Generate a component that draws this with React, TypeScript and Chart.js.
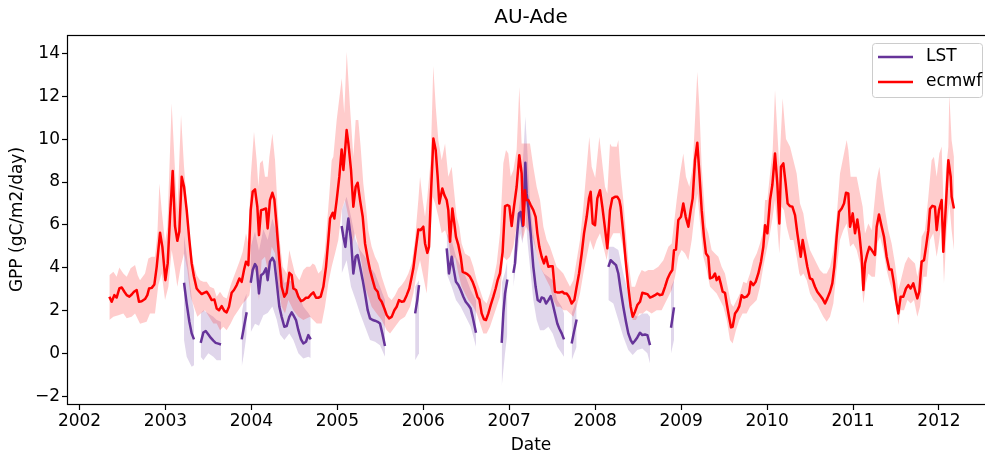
import React, { useEffect, useRef } from "react";
import { Chart, registerables } from "chart.js";

Chart.register(...registerables);

const chartTitle = "AU-Ade";
const xAxisTitle = "Date";
const yAxisTitle = "GPP (gC/m2/day)";
const seriesNames = ["LST", "ecmwf"];
const xTickYears = [2002, 2003, 2004, 2005, 2006, 2007, 2008, 2009, 2010, 2011, 2012];
const yTickValues = [-2, 0, 2, 4, 6, 8, 10, 12, 14];

const ecmwfDates = [
  2002.347, 2002.374, 2002.405, 2002.432, 2002.463, 2002.491, 2002.522, 2002.549, 2002.580, 2002.607,
  2002.634, 2002.665, 2002.692, 2002.723, 2002.762, 2002.789, 2002.809, 2002.840, 2002.871, 2002.898,
  2002.937, 2002.964, 2002.999, 2003.026, 2003.053, 2003.084, 2003.111, 2003.138, 2003.161, 2003.189,
  2003.216, 2003.247, 2003.278, 2003.305, 2003.332, 2003.363, 2003.394, 2003.421, 2003.449, 2003.480,
  2003.507, 2003.538, 2003.569, 2003.596, 2003.623, 2003.654, 2003.685, 2003.712, 2003.739, 2003.770,
  2003.797, 2003.829, 2003.860, 2003.887, 2003.914, 2003.937, 2003.964, 2003.992, 2004.015, 2004.042,
  2004.069, 2004.088, 2004.112, 2004.139, 2004.170, 2004.189, 2004.216, 2004.244, 2004.267, 2004.294,
  2004.325, 2004.352, 2004.383, 2004.410, 2004.441, 2004.469, 2004.488, 2004.519, 2004.546, 2004.577,
  2004.604, 2004.635, 2004.662, 2004.693, 2004.721, 2004.752, 2004.779, 2004.806, 2004.837, 2004.868,
  2004.895, 2004.915, 2004.946, 2004.965, 2004.992, 2005.023, 2005.050, 2005.070, 2005.093, 2005.108,
  2005.128, 2005.159, 2005.186, 2005.213, 2005.236, 2005.264, 2005.295, 2005.322, 2005.353, 2005.380,
  2005.411, 2005.438, 2005.469, 2005.488, 2005.516, 2005.547, 2005.574, 2005.601, 2005.632, 2005.663,
  2005.690, 2005.717, 2005.748, 2005.775, 2005.807, 2005.837, 2005.865, 2005.884, 2005.911, 2005.942,
  2005.969, 2006.000, 2006.020, 2006.047, 2006.066, 2006.086, 2006.117, 2006.144, 2006.167, 2006.186,
  2006.221, 2006.245, 2006.272, 2006.291, 2006.311, 2006.338, 2006.361, 2006.380, 2006.408, 2006.435,
  2006.458, 2006.485, 2006.512, 2006.543, 2006.574, 2006.602, 2006.629, 2006.652, 2006.679, 2006.706,
  2006.729, 2006.757, 2006.784, 2006.815, 2006.842, 2006.865, 2006.892, 2006.923, 2006.951, 2006.978,
  2007.001, 2007.028, 2007.055, 2007.086, 2007.117, 2007.144, 2007.164, 2007.183, 2007.195, 2007.222,
  2007.249, 2007.280, 2007.307, 2007.327, 2007.350, 2007.377, 2007.404, 2007.428, 2007.455, 2007.482,
  2007.505, 2007.532, 2007.559, 2007.590, 2007.618, 2007.641, 2007.668, 2007.695, 2007.726, 2007.757,
  2007.784, 2007.812, 2007.843, 2007.870, 2007.901, 2007.928, 2007.947, 2007.971, 2007.998, 2008.025,
  2008.056, 2008.083, 2008.114, 2008.141, 2008.172, 2008.199, 2008.230, 2008.258, 2008.281, 2008.296,
  2008.327, 2008.354, 2008.385, 2008.413, 2008.436, 2008.463, 2008.490, 2008.521, 2008.548, 2008.579,
  2008.607, 2008.638, 2008.665, 2008.696, 2008.723, 2008.754, 2008.781, 2008.812, 2008.843, 2008.870,
  2008.897, 2008.917, 2008.940, 2008.967, 2008.998, 2009.025, 2009.053, 2009.084, 2009.111, 2009.134,
  2009.161, 2009.188, 2009.212, 2009.239, 2009.266, 2009.289, 2009.316, 2009.336, 2009.367, 2009.394,
  2009.413, 2009.440, 2009.460, 2009.483, 2009.510, 2009.530, 2009.557, 2009.580, 2009.599, 2009.627,
  2009.654, 2009.677, 2009.704, 2009.731, 2009.762, 2009.789, 2009.809, 2009.840, 2009.867, 2009.898,
  2009.929, 2009.956, 2009.976, 2010.003, 2010.034, 2010.061, 2010.092, 2010.119, 2010.142, 2010.162,
  2010.189, 2010.216, 2010.239, 2010.266, 2010.294, 2010.325, 2010.352, 2010.375, 2010.391, 2010.414,
  2010.441, 2010.468, 2010.499, 2010.526, 2010.557, 2010.584, 2010.615, 2010.643, 2010.674, 2010.701,
  2010.732, 2010.759, 2010.782, 2010.809, 2010.837, 2010.868, 2010.895, 2010.918, 2010.945, 2010.965,
  2010.996, 2011.023, 2011.050, 2011.073, 2011.100, 2011.120, 2011.139, 2011.166, 2011.190, 2011.217,
  2011.255, 2011.275, 2011.302, 2011.333, 2011.360, 2011.391, 2011.422, 2011.449, 2011.476, 2011.500,
  2011.527, 2011.554, 2011.585, 2011.616, 2011.643, 2011.670, 2011.701, 2011.721, 2011.748, 2011.771,
  2011.798, 2011.826, 2011.849, 2011.876, 2011.895, 2011.922, 2011.953, 2011.973, 2012.000, 2012.031,
  2012.050, 2012.081, 2012.109, 2012.136, 2012.147, 2012.174,
];
const ecmwfValues = [
  2.66, 2.42, 2.73, 2.62, 3.04, 3.09, 2.89, 2.73, 2.66, 2.76,
  2.89, 2.97, 2.42, 2.45, 2.55, 2.73, 3.04, 3.07, 3.23, 4.05,
  5.64, 4.98, 3.43, 4.21, 6.38, 8.52, 5.95, 5.26, 5.68, 8.25,
  7.78, 6.69, 5.30, 4.21, 3.59, 3.04, 2.89, 2.78, 2.84, 2.89,
  2.73, 2.50, 2.53, 2.11, 2.03, 2.22, 2.00, 1.93, 2.19, 2.84,
  2.97, 3.20, 3.51, 3.35, 3.90, 4.29, 4.13, 6.69, 7.55, 7.66,
  6.85, 5.53, 6.69, 6.72, 6.77, 5.84, 7.16, 7.50, 7.19, 5.92,
  4.36, 3.12, 2.66, 2.84, 3.77, 3.66, 3.04, 2.97, 2.66, 2.45,
  2.50, 2.61, 2.61, 2.76, 2.86, 2.61, 2.61, 2.66, 3.12, 4.05,
  5.30, 6.30, 6.57, 6.30, 7.16, 8.25, 9.52, 8.56, 9.64, 10.42,
  9.80, 8.56, 6.85, 7.78, 7.97, 7.16, 6.38, 5.14, 4.44, 3.90,
  3.43, 3.04, 2.89, 2.58, 2.42, 2.11, 1.80, 1.65, 1.72, 2.03,
  2.19, 2.50, 2.42, 2.45, 2.73, 3.04, 3.59, 3.98, 4.83, 5.79,
  5.76, 5.92, 5.14, 4.70, 4.98, 7.16, 10.03, 9.49, 8.25, 7.00,
  7.70, 7.39, 7.16, 6.69, 5.22, 6.77, 6.07, 5.45, 5.06, 4.52,
  3.82, 3.77, 3.71, 3.59, 3.35, 3.04, 2.66, 2.53, 1.88, 1.60,
  1.57, 1.88, 2.27, 2.66, 3.04, 3.43, 3.74, 4.75, 6.88, 6.93,
  6.88, 5.95, 6.85, 7.78, 9.25, 8.40, 5.99, 7.62, 7.16, 7.16,
  6.93, 6.69, 6.38, 5.61, 4.98, 4.52, 4.21, 4.52, 4.05, 4.08,
  4.08, 2.89, 2.86, 2.86, 2.89, 2.81, 2.81, 2.66, 2.34, 2.50,
  3.12, 3.74, 4.67, 5.61, 6.38, 7.24, 7.55, 6.07, 5.99, 7.24,
  7.62, 6.85, 5.84, 4.91, 6.69, 7.24, 7.31, 7.31, 7.16, 6.85,
  5.61, 4.36, 3.12, 2.19, 1.72, 1.96, 2.27, 2.42, 2.84, 2.81,
  2.78, 2.62, 2.66, 2.73, 2.81, 2.73, 2.76, 3.12, 3.51, 3.74,
  3.90, 4.83, 4.86, 6.23, 6.38, 7.00, 6.38, 5.92, 6.69, 7.24,
  9.02, 9.83, 8.40, 6.69, 5.45, 4.67, 4.52, 3.51, 3.56, 3.74,
  3.43, 3.59, 3.28, 2.89, 2.84, 2.34, 1.72, 1.23, 1.26, 1.88,
  2.03, 2.22, 2.73, 2.62, 2.66, 2.81, 3.35, 3.20, 3.35, 3.74,
  4.29, 4.98, 5.99, 5.61, 7.16, 7.86, 9.33, 7.93, 6.07, 8.71,
  8.87, 7.93, 7.00, 6.88, 6.85, 6.46, 5.61, 4.98, 4.52, 5.30,
  4.67, 4.05, 3.51, 3.46, 3.12, 2.89, 2.73, 2.58, 2.34, 2.58,
  2.89, 3.28, 4.05, 5.45, 6.61, 6.77, 7.00, 7.50, 7.47, 5.92,
  6.54, 5.61, 6.26, 5.61, 4.52, 2.97, 4.21, 4.67, 4.98, 4.83,
  4.60, 5.92, 6.49, 5.92, 5.45, 4.52, 3.93, 3.93, 3.28, 2.50,
  1.88, 2.66, 2.66, 3.04, 3.20, 3.04, 3.28, 2.97, 2.58, 2.89,
  4.29, 4.36, 4.98, 5.76, 6.74, 6.89, 6.85, 5.76, 6.69, 7.16,
  4.75, 7.00, 9.02, 8.25, 7.31, 6.77,
];

const ecmwfUpperDates = [
  2002.347, 2002.394, 2002.432, 2002.463, 2002.510, 2002.549, 2002.595, 2002.646, 2002.677, 2002.704,
  2002.762, 2002.801, 2002.840, 2002.878, 2002.906, 2002.929, 2002.956, 2002.995, 2003.022, 2003.072,
  2003.111, 2003.138, 2003.181, 2003.216, 2003.247, 2003.278, 2003.317, 2003.363, 2003.402, 2003.441,
  2003.480, 2003.518, 2003.565, 2003.596, 2003.635, 2003.673, 2003.712, 2003.759, 2003.809, 2003.860,
  2003.898, 2003.937, 2003.964, 2003.992, 2004.030, 2004.061, 2004.081, 2004.100, 2004.131, 2004.158,
  2004.189, 2004.209, 2004.244, 2004.275, 2004.306, 2004.333, 2004.364, 2004.410, 2004.441, 2004.469,
  2004.507, 2004.558, 2004.604, 2004.643, 2004.682, 2004.713, 2004.740, 2004.779, 2004.818, 2004.856,
  2004.883, 2004.907, 2004.934, 2004.953, 2004.992, 2005.051, 2005.080, 2005.109, 2005.147, 2005.186,
  2005.213, 2005.244, 2005.271, 2005.302, 2005.333, 2005.360, 2005.399, 2005.438, 2005.477, 2005.516,
  2005.554, 2005.593, 2005.632, 2005.671, 2005.709, 2005.748, 2005.787, 2005.826, 2005.865, 2005.903,
  2005.942, 2005.962, 2005.993, 2006.020, 2006.047, 2006.086, 2006.116, 2006.145, 2006.175, 2006.214,
  2006.253, 2006.291, 2006.330, 2006.349, 2006.388, 2006.419, 2006.446, 2006.485, 2006.543, 2006.582,
  2006.621, 2006.660, 2006.698, 2006.737, 2006.776, 2006.815, 2006.854, 2006.892, 2006.931, 2006.962,
  2006.989, 2007.017, 2007.048, 2007.086, 2007.117, 2007.144, 2007.202, 2007.241, 2007.280, 2007.319,
  2007.358, 2007.397, 2007.435, 2007.474, 2007.513, 2007.552, 2007.591, 2007.629, 2007.668, 2007.707,
  2007.746, 2007.784, 2007.823, 2007.862, 2007.901, 2007.931, 2007.959, 2008.000, 2008.048, 2008.087,
  2008.114, 2008.141, 2008.172, 2008.192, 2008.250, 2008.269, 2008.296, 2008.327, 2008.358, 2008.385,
  2008.424, 2008.463, 2008.502, 2008.541, 2008.579, 2008.618, 2008.676, 2008.734, 2008.793, 2008.851,
  2008.890, 2008.917, 2008.948, 2008.987, 2009.025, 2009.056, 2009.095, 2009.134, 2009.161, 2009.188,
  2009.212, 2009.239, 2009.266, 2009.289, 2009.316, 2009.355, 2009.394, 2009.433, 2009.471, 2009.510,
  2009.549, 2009.580, 2009.607, 2009.646, 2009.684, 2009.723, 2009.762, 2009.801, 2009.840, 2009.879,
  2009.917, 2009.956, 2009.976, 2010.003, 2010.034, 2010.065, 2010.092, 2010.142, 2010.181, 2010.220,
  2010.267, 2010.306, 2010.344, 2010.383, 2010.422, 2010.461, 2010.499, 2010.538, 2010.577, 2010.615,
  2010.654, 2010.693, 2010.732, 2010.771, 2010.809, 2010.848, 2010.887, 2010.926, 2010.945, 2010.972,
  2011.003, 2011.042, 2011.081, 2011.112, 2011.139, 2011.178, 2011.217, 2011.275, 2011.306, 2011.333,
  2011.372, 2011.411, 2011.449, 2011.488, 2011.527, 2011.566, 2011.604, 2011.643, 2011.682, 2011.721,
  2011.748, 2011.779, 2011.798, 2011.837, 2011.876, 2011.914, 2011.941, 2011.973, 2012.004, 2012.031,
  2012.058, 2012.081, 2012.109, 2012.120, 2012.147, 2012.174,
];
const ecmwfUpperValues = [
  3.66, 3.82, 3.59, 4.02, 3.74, 3.59, 3.98, 4.13, 3.66, 3.43,
  3.74, 4.44, 4.52, 4.52, 5.61, 7.93, 6.69, 5.22, 5.92, 11.67,
  8.56, 6.69, 11.12, 8.71, 7.16, 5.61, 4.36, 3.66, 3.43, 3.35,
  3.35, 3.12, 3.04, 2.66, 2.89, 2.66, 2.58, 3.20, 3.74, 4.29,
  4.75, 5.61, 5.14, 8.25, 10.34, 9.02, 7.78, 8.87, 9.02, 8.25,
  8.25, 9.18, 10.26, 9.02, 6.69, 5.14, 4.05, 3.74, 4.83, 4.36,
  3.74, 3.43, 3.90, 4.05, 4.05, 4.21, 4.13, 3.74, 3.90, 4.83,
  6.23, 7.47, 9.02, 9.18, 10.89, 12.83, 11.20, 14.07, 11.51, 9.18,
  10.89, 10.89, 9.64, 7.93, 6.85, 5.76, 4.98, 4.52, 4.21, 3.59,
  3.12, 2.66, 2.50, 2.73, 3.04, 3.20, 3.43, 3.74, 4.21, 5.30,
  7.16, 8.25, 7.16, 6.38, 7.31, 9.02, 13.41, 11.50, 9.95, 9.02,
  9.80, 8.25, 8.71, 7.93, 6.38, 5.92, 5.14, 4.67, 4.52, 4.05,
  3.43, 2.97, 2.50, 2.34, 2.81, 3.43, 4.21, 5.61, 8.87, 9.49,
  9.33, 8.25, 8.56, 9.49, 12.44, 9.80, 9.80, 9.80, 8.71, 7.78,
  7.16, 5.92, 5.30, 4.98, 4.52, 4.05, 3.90, 3.74, 3.43, 3.12,
  3.43, 4.36, 5.30, 6.85, 8.71, 10.11, 8.71, 8.20, 10.11, 8.71,
  7.78, 7.47, 9.80, 9.65, 9.64, 9.96, 8.40, 7.16, 5.60, 4.36,
  3.12, 3.12, 3.59, 3.90, 3.82, 3.90, 3.90, 4.05, 4.36, 4.98,
  5.14, 6.07, 7.16, 8.40, 9.33, 8.25, 7.78, 8.71, 10.89, 13.14,
  11.50, 8.71, 7.16, 5.92, 5.61, 4.83, 4.67, 4.52, 4.05, 3.74,
  2.97, 2.34, 2.19, 2.50, 2.81, 3.35, 3.28, 3.74, 4.36, 4.67,
  5.14, 5.76, 7.16, 7.16, 8.40, 9.49, 12.29, 8.71, 11.90, 10.00,
  9.64, 9.02, 8.40, 7.00, 6.54, 5.45, 4.83, 4.52, 4.21, 3.90,
  3.74, 3.74, 4.05, 4.83, 6.38, 8.40, 9.18, 9.96, 9.49, 8.25,
  8.25, 8.25, 7.47, 6.85, 5.60, 6.07, 5.76, 8.09, 8.71, 7.78,
  6.69, 5.76, 5.14, 4.21, 2.97, 3.59, 4.21, 4.52, 4.36, 4.21,
  3.59, 4.21, 5.45, 5.76, 7.31, 9.02, 9.18, 8.25, 9.33, 9.65,
  6.38, 8.56, 9.64, 12.13, 9.95, 9.18,
];

const ecmwfLowerDates = [
  2002.347, 2002.394, 2002.452, 2002.510, 2002.549, 2002.607, 2002.646, 2002.704, 2002.781, 2002.820,
  2002.878, 2002.917, 2002.956, 2002.995, 2003.034, 2003.072, 2003.111, 2003.138, 2003.177, 2003.216,
  2003.255, 2003.293, 2003.332, 2003.371, 2003.410, 2003.460, 2003.507, 2003.557, 2003.596, 2003.635,
  2003.673, 2003.712, 2003.759, 2003.797, 2003.848, 2003.898, 2003.937, 2003.976, 2004.022, 2004.061,
  2004.088, 2004.119, 2004.158, 2004.197, 2004.236, 2004.275, 2004.313, 2004.352, 2004.391, 2004.430,
  2004.488, 2004.546, 2004.604, 2004.682, 2004.759, 2004.818, 2004.856, 2004.895, 2004.934, 2004.973,
  2005.011, 2005.050, 2005.089, 2005.128, 2005.167, 2005.205, 2005.244, 2005.283, 2005.322, 2005.360,
  2005.399, 2005.457, 2005.516, 2005.574, 2005.613, 2005.671, 2005.729, 2005.787, 2005.846, 2005.884,
  2005.923, 2005.962, 2006.000, 2006.039, 2006.078, 2006.110, 2006.137, 2006.175, 2006.214, 2006.253,
  2006.291, 2006.330, 2006.369, 2006.408, 2006.446, 2006.485, 2006.524, 2006.582, 2006.621, 2006.660,
  2006.698, 2006.737, 2006.776, 2006.815, 2006.854, 2006.892, 2006.931, 2006.970, 2007.009, 2007.048,
  2007.086, 2007.117, 2007.156, 2007.195, 2007.241, 2007.280, 2007.319, 2007.358, 2007.397, 2007.435,
  2007.474, 2007.513, 2007.552, 2007.591, 2007.629, 2007.668, 2007.707, 2007.746, 2007.784, 2007.823,
  2007.862, 2007.901, 2007.940, 2007.979, 2008.017, 2008.056, 2008.095, 2008.133, 2008.172, 2008.211,
  2008.250, 2008.288, 2008.327, 2008.366, 2008.405, 2008.436, 2008.474, 2008.513, 2008.552, 2008.598,
  2008.657, 2008.715, 2008.773, 2008.832, 2008.890, 2008.929, 2008.967, 2009.006, 2009.045, 2009.084,
  2009.123, 2009.161, 2009.188, 2009.220, 2009.258, 2009.297, 2009.336, 2009.374, 2009.413, 2009.452,
  2009.491, 2009.530, 2009.568, 2009.599, 2009.638, 2009.677, 2009.715, 2009.762, 2009.801, 2009.840,
  2009.879, 2009.917, 2009.956, 2009.995, 2010.034, 2010.065, 2010.092, 2010.119, 2010.142, 2010.170,
  2010.197, 2010.228, 2010.267, 2010.306, 2010.344, 2010.375, 2010.391, 2010.422, 2010.461, 2010.499,
  2010.538, 2010.577, 2010.615, 2010.654, 2010.693, 2010.732, 2010.771, 2010.809, 2010.848, 2010.887,
  2010.926, 2010.965, 2011.003, 2011.042, 2011.081, 2011.120, 2011.151, 2011.178, 2011.217, 2011.255,
  2011.283, 2011.314, 2011.352, 2011.391, 2011.430, 2011.469, 2011.508, 2011.527, 2011.554, 2011.593,
  2011.632, 2011.671, 2011.709, 2011.748, 2011.779, 2011.818, 2011.857, 2011.895, 2011.934, 2011.973,
  2012.004, 2012.031, 2012.058, 2012.089, 2012.120, 2012.147, 2012.174,
];
const ecmwfLowerValues = [
  1.57, 1.72, 1.80, 1.88, 1.65, 1.72, 1.88, 1.40, 1.49, 1.88,
  1.88, 3.20, 3.74, 2.50, 3.12, 4.83, 3.90, 3.12, 4.05, 4.67,
  3.90, 2.66, 2.19, 1.72, 1.88, 2.03, 1.72, 1.41, 1.41, 1.10,
  1.26, 1.10, 1.41, 1.72, 2.03, 2.34, 2.50, 2.73, 4.05, 3.74,
  2.50, 4.36, 4.52, 3.74, 4.98, 4.67, 3.12, 2.19, 1.88, 2.50,
  2.03, 1.72, 1.57, 1.72, 1.41, 1.41, 2.19, 3.28, 4.05, 4.67,
  5.30, 6.69, 7.16, 6.38, 4.98, 5.61, 4.98, 4.21, 3.12, 2.66,
  2.19, 1.88, 1.57, 1.10, 0.95, 1.26, 1.57, 1.72, 2.19, 2.81,
  3.74, 4.36, 3.59, 2.81, 4.98, 7.30, 7.00, 6.38, 5.61, 5.76,
  5.30, 4.21, 4.52, 3.74, 3.12, 2.81, 2.50, 2.19, 1.88, 1.41,
  0.95, 0.95, 1.26, 1.72, 2.19, 2.66, 4.52, 4.36, 4.52, 4.98,
  5.92, 6.69, 5.30, 5.92, 5.61, 5.30, 4.67, 4.05, 3.74, 3.43,
  3.12, 2.50, 2.19, 2.19, 2.03, 2.03, 1.88, 1.72, 2.19, 2.81,
  3.74, 4.52, 5.30, 4.83, 5.30, 5.61, 4.98, 4.36, 5.30, 5.61,
  5.61, 5.61, 4.83, 3.74, 2.50, 1.57, 1.57, 1.88, 1.88, 2.03,
  1.88, 2.03, 2.03, 2.50, 2.97, 3.59, 4.52, 4.83, 4.67, 4.36,
  5.30, 6.69, 7.47, 6.07, 4.52, 3.90, 3.12, 2.97, 2.81, 2.50,
  2.19, 1.57, 0.64, 0.48, 1.10, 1.57, 1.88, 1.88, 2.19, 2.34,
  2.50, 3.12, 4.05, 4.83, 5.61, 6.38, 7.16, 5.92, 4.67, 6.85,
  6.69, 5.92, 5.30, 5.30, 4.52, 3.74, 3.60, 3.74, 3.43, 2.81,
  2.50, 2.34, 2.03, 1.72, 1.49, 1.72, 2.34, 3.90, 5.30, 5.76,
  6.07, 4.98, 5.14, 4.83, 4.21, 2.34, 3.28, 3.74, 3.59, 3.59,
  5.14, 5.45, 4.83, 3.90, 3.28, 2.81, 2.03, 1.34, 2.03, 2.03,
  2.50, 2.34, 2.50, 1.72, 2.19, 3.59, 3.59, 5.30, 5.61, 4.52,
  5.30, 6.23, 3.28, 5.76, 7.00, 5.76, 4.83,
];

// LST series: null marks a gap between observation runs
const lstDates = [
  2003.216, 2003.247, 2003.278, 2003.305, 2003.332, 2003.370,
  2003.410, 2003.441, 2003.468, 2003.499, 2003.526, 2003.557, 2003.584, 2003.615, 2003.646, 2003.770,
  2003.887, 2003.914, 2003.945, 2003.970,
  2003.992, 2004.015, 2004.042, 2004.061, 2004.088, 2004.112, 2004.139, 2004.170, 2004.189, 2004.216,
  2004.244, 2004.267, 2004.294, 2004.325, 2004.352, 2004.383, 2004.410, 2004.441, 2004.469, 2004.488,
  2004.519, 2004.546, 2004.577, 2004.604, 2004.635, 2004.662, 2004.690, 2004.870,
  2005.050, 2005.070, 2005.093, 2005.108, 2005.128, 2005.159, 2005.186, 2005.213, 2005.236, 2005.264,
  2005.295, 2005.322, 2005.353, 2005.380, 2005.411, 2005.438, 2005.469, 2005.496, 2005.523, 2005.554, 2005.750,
  2005.905, 2005.930, 2005.950, 2006.100,
  2006.272, 2006.299, 2006.330, 2006.349, 2006.380, 2006.408, 2006.435, 2006.466, 2006.493, 2006.524,
  2006.551, 2006.574, 2006.594, 2006.613, 2006.760,
  2006.912, 2006.931, 2006.951, 2006.978, 2007.010,
  2007.048, 2007.067, 2007.086, 2007.113, 2007.133, 2007.156, 2007.172, 2007.187, 2007.202, 2007.222,
  2007.249, 2007.280, 2007.307, 2007.331, 2007.358, 2007.377, 2007.404, 2007.428, 2007.455, 2007.482,
  2007.505, 2007.532, 2007.559, 2007.582, 2007.610, 2007.637, 2007.680,
  2007.726, 2007.753, 2007.784, 2007.970,
  2008.153, 2008.180, 2008.211, 2008.242, 2008.269, 2008.296, 2008.327, 2008.358, 2008.385, 2008.413,
  2008.436, 2008.463, 2008.490, 2008.521, 2008.548, 2008.579, 2008.607, 2008.638, 2008.760,
  2008.882, 2008.901, 2008.917,
];
const lstValues = [
  3.31, 2.34, 1.49, 0.95, 0.67, null,
  0.51, 0.99, 1.06, 0.90, 0.75, 0.61, 0.51, 0.47, 0.43, null,
  0.67, 1.26, 1.93, null,
  3.31, 3.90, 4.18, 4.05, 2.81, 3.66, 3.74, 3.98, 3.43, 4.29,
  4.47, 4.29, 3.35, 2.19, 1.72, 1.26, 1.29, 1.72, 1.93, 1.80,
  1.57, 1.10, 0.67, 0.48, 0.56, 0.87, 0.67, null,
  5.95, 5.45, 4.98, 5.61, 6.30, 5.30, 3.74, 4.52, 4.60, 4.05,
  3.43, 2.81, 2.03, 1.65, 1.57, 1.54, 1.49, 1.41, 0.95, 0.36, null,
  1.88, 2.50, 3.20, null,
  4.91, 3.74, 4.52, 4.05, 3.35, 3.20, 2.97, 2.66, 2.42, 2.27,
  2.11, 1.72, 1.34, 0.98, null,
  0.51, 1.88, 2.81, 3.46, null,
  3.77, 4.21, 5.30, 6.54, 6.61, 5.95, 7.00, 8.90, 7.47, 6.85,
  5.61, 4.05, 3.12, 2.50, 2.42, 2.62, 2.58, 2.34, 2.50, 2.69,
  2.34, 1.88, 1.41, 1.18, 0.95, 0.67, null,
  0.48, 1.02, 1.60, null,
  4.05, 4.36, 4.24, 4.13, 3.74, 2.97, 2.19, 1.49, 0.95, 0.64,
  0.48, 0.61, 0.76, 0.98, 0.87, 0.90, 0.87, 0.40, null,
  1.21, 1.72, 2.16,
];

const lstBandDates = [
  2003.216, 2003.247, 2003.278, 2003.305, 2003.332, 2003.370,
  2003.410, 2003.441, 2003.499, 2003.557, 2003.596, 2003.646, 2003.770,
  2003.887, 2003.914, 2003.945, 2003.970,
  2003.992, 2004.042, 2004.088, 2004.139, 2004.189, 2004.244, 2004.294, 2004.333, 2004.383, 2004.441,
  2004.488, 2004.546, 2004.604, 2004.662, 2004.690, 2004.870,
  2005.050, 2005.108, 2005.159, 2005.213, 2005.264, 2005.322, 2005.380, 2005.438, 2005.496, 2005.554, 2005.750,
  2005.905, 2005.950, 2006.100,
  2006.272, 2006.330, 2006.380, 2006.435, 2006.493, 2006.551, 2006.613, 2006.760,
  2006.912, 2006.951, 2006.978, 2007.010,
  2007.048, 2007.086, 2007.125, 2007.156, 2007.187, 2007.210, 2007.241, 2007.280, 2007.319, 2007.358,
  2007.404, 2007.455, 2007.505, 2007.559, 2007.610, 2007.637, 2007.680,
  2007.726, 2007.784, 2007.970,
  2008.153, 2008.211, 2008.269, 2008.327, 2008.385, 2008.436, 2008.490, 2008.548, 2008.607, 2008.638, 2008.760,
  2008.882, 2008.917,
];
const lstBandLower = [
  0.64, -0.14, -0.40, -0.60, -0.53, null,
  -0.14, -0.30, 0.02, -0.14, -0.30, -0.30, null,
  -0.60, 0.02, 0.95, null,
  1.00, 1.40, 1.30, 1.80, 1.90, 2.20, 1.60, 0.90, 0.64, 0.95,
  0.64, 0.02, -0.22, -0.14, -0.20, null,
  3.74, 4.36, 3.12, 2.50, 1.88, 1.26, 0.64, 0.56, 0.40, -0.14, null,
  -0.30, 0.02, null,
  3.74, 3.12, 2.50, 2.19, 1.72, 1.26, 0.33, null,
  -1.54, 0.02, 0.95, null,
  3.12, 4.36, 5.61, 5.14, 6.69, 5.30, 4.05, 2.50, 1.57, 1.10,
  1.10, 1.26, 0.95, 0.33, 0.02, -0.14, null,
  -0.30, 0.33, null,
  2.50, 2.34, 1.57, 0.79, 0.17, -0.06, 0.17, 0.25, 0.02, -0.45, null,
  0.02, 0.64,
];
const lstBandUpper = [
  5.50, 4.60, 3.60, 2.60, 2.00, null,
  1.88, 2.03, 1.88, 1.72, 1.57, 1.49, null,
  1.88, 2.50, 2.81, null,
  5.00, 5.70, 4.80, 5.80, 5.30, 6.30, 5.60, 4.30, 3.30, 3.43,
  3.30, 2.81, 2.19, 1.90, 1.72, null,
  6.69, 7.31, 6.38, 5.30, 4.83, 4.52, 4.05, 3.74, 3.12, 2.50, null,
  3.12, 3.43, null,
  5.61, 5.30, 4.52, 4.05, 3.59, 2.97, 2.50, null,
  3.28, 3.80, 4.36, null,
  4.52, 5.92, 7.16, 8.71, 11.04, 9.49, 7.16, 5.61, 4.67, 4.05,
  3.74, 3.59, 3.43, 2.50, 2.19, 1.88, null,
  1.88, 2.50, null,
  4.98, 4.98, 4.83, 3.74, 2.81, 1.88, 1.72, 1.88, 1.88, 1.72, null,
  3.12, 3.43,
];

const X_MIN = 2001.866;
const X_MAX = 2012.64;
const Y_MIN = -2.34;
const Y_MAX = 14.85;

const FONT = "DejaVu Sans";
const LST_COLOR = "#663399";
const LST_FILL = "rgba(102, 51, 153, 0.2)";
const ECMWF_COLOR = "#ff0000";
const ECMWF_FILL = "rgba(255, 0, 0, 0.2)";

const toPoints = (xs: number[], ys: (number | null)[]) =>
  xs.map((x, i) => ({ x, y: ys[i] }));

const framePlugin = {
  id: "frame",
  afterDatasetsDraw(chart: any) {
    const { ctx, chartArea } = chart;
    ctx.save();
    ctx.strokeStyle = "#000";
    ctx.lineWidth = 1.2;
    const l = Math.round(chartArea.left) - 0.5;
    const t = Math.round(chartArea.top) + 0.5;
    const r = Math.round(chartArea.right) - 0.5;
    const b = Math.round(chartArea.bottom) + 0.5;
    ctx.strokeRect(l, t, r - l, b - t);
    ctx.restore();
  },
};

const titlePlugin = {
  id: "axesTitle",
  afterDraw(chart: any) {
    const { ctx, chartArea } = chart;
    ctx.save();
    ctx.font = `20px "${FONT}"`;
    ctx.fillStyle = "#000";
    ctx.textAlign = "center";
    ctx.textBaseline = "middle";
    ctx.fillText(chartTitle, (chartArea.left + chartArea.right) / 2, chartArea.top - 17);
    ctx.restore();
  },
};

const legendPlugin = {
  id: "boxLegend",
  afterDraw(chart: any) {
    const { ctx, chartArea } = chart;
    const w = 110;
    const h = 54;
    const x = chartArea.right - 12 - w;
    const y = chartArea.top + 8;
    ctx.save();
    ctx.beginPath();
    if (ctx.roundRect) ctx.roundRect(x + 0.5, y + 0.5, w, h, 3);
    else ctx.rect(x + 0.5, y + 0.5, w, h);
    ctx.fillStyle = "rgba(255,255,255,0.8)";
    ctx.fill();
    ctx.strokeStyle = "#cccccc";
    ctx.lineWidth = 1;
    ctx.stroke();
    const colors = [LST_COLOR, ECMWF_COLOR];
    ctx.font = `17px "${FONT}"`;
    ctx.textBaseline = "middle";
    ctx.textAlign = "left";
    seriesNames.forEach((name, i) => {
      const ly = y + 14 + i * 25;
      ctx.beginPath();
      ctx.strokeStyle = colors[i];
      ctx.lineWidth = 2.5;
      ctx.moveTo(x + 6, ly);
      ctx.lineTo(x + 41, ly);
      ctx.stroke();
      ctx.fillStyle = "#000";
      ctx.fillText(name, x + 54, ly);
    });
    ctx.restore();
  },
};

export default function App() {
  const canvasRef = useRef<HTMLCanvasElement | null>(null);

  useEffect(() => {
    if (!canvasRef.current) return;
    const hidden = "rgba(0,0,0,0)";
    const chart = new Chart(canvasRef.current, {
      type: "line",
      data: {
        datasets: [
          {
            label: "LST band lower",
            data: toPoints(lstBandDates, lstBandLower),
            borderColor: hidden,
            borderWidth: 0,
            pointRadius: 0,
            fill: false,
            spanGaps: false,
            order: 5,
          },
          {
            label: "LST band upper",
            data: toPoints(lstBandDates, lstBandUpper),
            borderColor: hidden,
            borderWidth: 0,
            pointRadius: 0,
            backgroundColor: LST_FILL,
            fill: "-1",
            spanGaps: false,
            order: 4,
          },
          {
            label: "ecmwf band lower",
            data: toPoints(ecmwfLowerDates, ecmwfLowerValues),
            borderColor: hidden,
            borderWidth: 0,
            pointRadius: 0,
            fill: false,
            order: 3,
          },
          {
            label: "ecmwf band upper",
            data: toPoints(ecmwfUpperDates, ecmwfUpperValues),
            borderColor: hidden,
            borderWidth: 0,
            pointRadius: 0,
            backgroundColor: ECMWF_FILL,
            fill: "-1",
            order: 2,
          },
          {
            label: seriesNames[0],
            data: toPoints(lstDates, lstValues),
            borderColor: LST_COLOR,
            borderWidth: 2.5,
            pointRadius: 0,
            fill: false,
            spanGaps: false,
            borderJoinStyle: "round",
            borderCapStyle: "butt",
            order: 1,
          },
          {
            label: seriesNames[1],
            data: toPoints(ecmwfDates, ecmwfValues),
            borderColor: ECMWF_COLOR,
            borderWidth: 2.5,
            pointRadius: 0,
            fill: false,
            borderJoinStyle: "round",
            order: 0,
          },
        ],
      },
      options: {
        animation: false,
        responsive: false,
        devicePixelRatio: 1,
        events: [],
        layout: { padding: { left: 0, right: 1, top: 35, bottom: 0 } },
        plugins: {
          legend: { display: false },
          tooltip: { enabled: false },
          title: { display: false },
        },
        scales: {
          x: {
            type: "linear",
            min: X_MIN,
            max: X_MAX,
            afterBuildTicks: (s: any) => {
              s.ticks = xTickYears.map((v) => ({ value: v }));
            },
            afterFit: (s: any) => {
              s.height = 53;
            },
            ticks: {
              autoSkip: false,
              maxRotation: 0,
              padding: 1,
              color: "#000",
              font: { family: FONT, size: 17 },
              callback: (v: any) => String(v),
            },
            grid: {
              drawOnChartArea: false,
              drawTicks: true,
              tickLength: 6,
              tickColor: "#000",
              tickWidth: 1.2,
            },
            border: { display: false },
            title: {
              display: true,
              text: xAxisTitle,
              color: "#000",
              font: { family: FONT, size: 17 },
              padding: { top: 0, bottom: 1 },
            },
          },
          y: {
            type: "linear",
            min: Y_MIN,
            max: Y_MAX,
            afterBuildTicks: (s: any) => {
              s.ticks = yTickValues.map((v) => ({ value: v }));
            },
            afterFit: (s: any) => {
              s.width = 68;
            },
            ticks: {
              padding: 2,
              color: "#000",
              font: { family: FONT, size: 17 },
              callback: (v: any) => (Number(v) < 0 ? "\u2212" + Math.abs(Number(v)) : String(v)),
            },
            grid: {
              drawOnChartArea: false,
              drawTicks: true,
              tickLength: 6,
              tickColor: "#000",
              tickWidth: 1.2,
            },
            border: { display: false },
            title: {
              display: true,
              text: yAxisTitle,
              color: "#000",
              font: { family: FONT, size: 17 },
              padding: { top: 7, bottom: 0 },
            },
          },
        },
      },
      plugins: [framePlugin, titlePlugin, legendPlugin],
    } as any);
    return () => chart.destroy();
  }, []);

  return (
    <div
      style={{
        position: "fixed",
        left: 0,
        top: 0,
        width: 985,
        height: 457,
        overflow: "hidden",
        background: "#fff",
      }}
    >
      <canvas ref={canvasRef} width={995} height={457} style={{ display: "block" }} />
    </div>
  );
}
